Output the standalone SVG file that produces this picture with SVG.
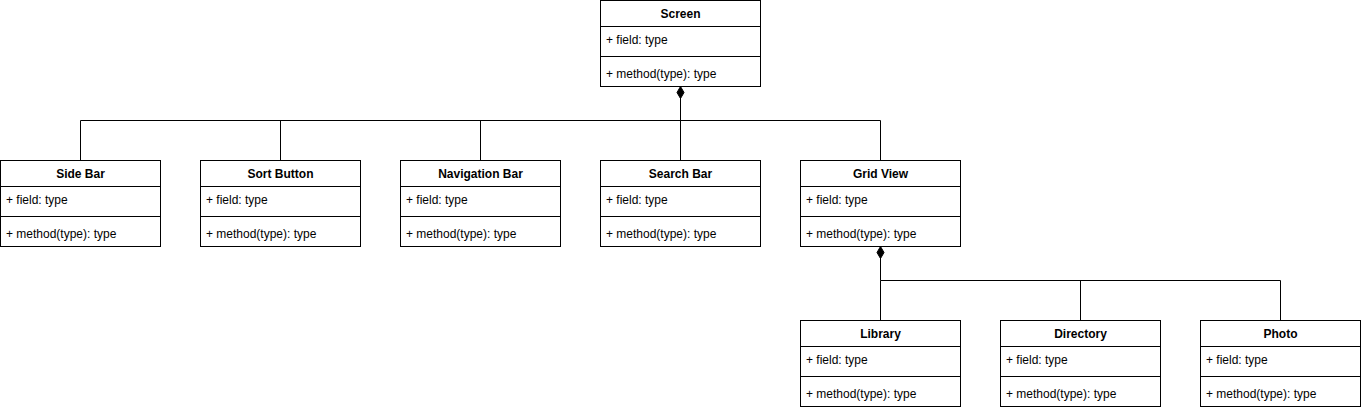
<svg xmlns="http://www.w3.org/2000/svg" width="1361" height="410" viewBox="0 0 1361 410">
<style>
.box{fill:#fff;stroke:#000;stroke-width:1}
.ln{stroke:#000;stroke-width:1;fill:none}
.t{font-family:"Liberation Sans",Arial,sans-serif;font-size:12px;fill:#000}
.h{font-weight:bold;text-anchor:middle}
.c{fill:none;stroke:#000;stroke-width:1}
</style>
<defs>
<g id="cls">
<rect class="box" x="0.5" y="0.5" width="160" height="86"/>
<line class="ln" x1="0.5" y1="26.5" x2="160.5" y2="26.5"/>
<line class="ln" x1="0.5" y1="56.5" x2="160.5" y2="56.5"/>
<text class="t" x="6" y="44">+ field: type</text>
<text class="t" x="6" y="78">+ method(type): type</text>
</g>
</defs>
<g id="connectors">
<path class="c" d="M680.5 98 V120.5 M80.5 160 V120.5 H880.5 V160 M280.5 120.5 V160 M480.5 120.5 V160 M680.5 120.5 V160"/>
<path d="M680.5 86.5 L684 92.5 L680.5 98.5 L677 92.5 Z" fill="#000" stroke="#000"/>
<path class="c" d="M880.5 258 V280.5 M880.5 280.5 V320 M880.5 280.5 H1280.5 V320 M1080.5 280.5 V320"/>
<path d="M880.5 246.5 L884 252.5 L880.5 258.5 L877 252.5 Z" fill="#000" stroke="#000"/>
</g>
<g id="screen" transform="translate(600,0)"><use href="#cls"/><text class="t h" x="80.5" y="18">Screen</text></g>
<g id="sidebar" transform="translate(0,160)"><use href="#cls"/><text class="t h" x="80.5" y="18">Side Bar</text></g>
<g id="sortbutton" transform="translate(200,160)"><use href="#cls"/><text class="t h" x="80.5" y="18">Sort Button</text></g>
<g id="navigationbar" transform="translate(400,160)"><use href="#cls"/><text class="t h" x="80.5" y="18">Navigation Bar</text></g>
<g id="searchbar" transform="translate(600,160)"><use href="#cls"/><text class="t h" x="80.5" y="18">Search Bar</text></g>
<g id="gridview" transform="translate(800,160)"><use href="#cls"/><text class="t h" x="80.5" y="18">Grid View</text></g>
<g id="library" transform="translate(800,320)"><use href="#cls"/><text class="t h" x="80.5" y="18">Library</text></g>
<g id="directory" transform="translate(1000,320)"><use href="#cls"/><text class="t h" x="80.5" y="18">Directory</text></g>
<g id="photo" transform="translate(1200,320)"><use href="#cls"/><text class="t h" x="80.5" y="18">Photo</text></g>
</svg>
